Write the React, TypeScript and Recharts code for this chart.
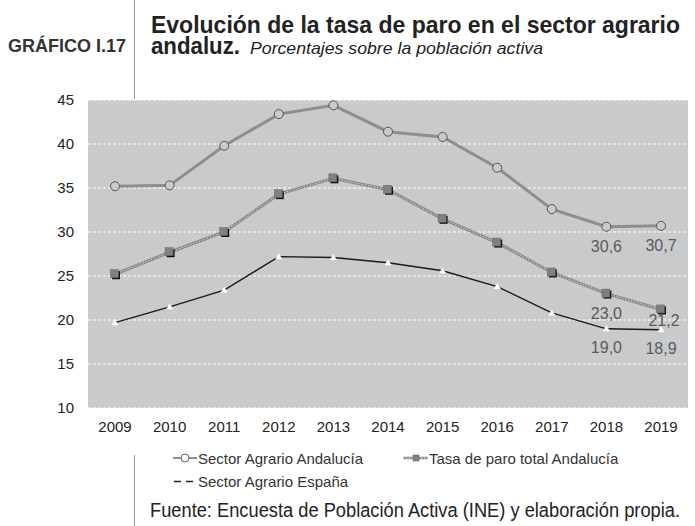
import { LineChart, Line, XAxis, YAxis, CartesianGrid, Legend, LabelList } from 'recharts'

const years = ['2009', '2010', '2011', '2012', '2013', '2014', '2015', '2016', '2017', '2018', '2019']
const agrarioAndalucia = [35.2, 35.3, 39.8, 43.4, 44.4, 41.4, 40.8, 37.3, 32.6, 30.6, 30.7]
const paroTotalAndalucia = [25.2, 27.7, 30.0, 34.3, 36.1, 34.8, 31.5, 28.8, 25.4, 23.0, 21.2]
const agrarioEspana = [19.7, 21.5, 23.4, 27.2, 27.1, 26.5, 25.6, 23.8, 20.8, 19.0, 18.9]
const yTicks = [10, 15, 20, 25, 30, 35, 40, 45]
const labelledYears = ['2018', '2019']

const seriesNames = {
  andalucia: 'Sector Agrario Andalucía',
  total: 'Tasa de paro total Andalucía',
  espana: 'Sector Agrario España',
}

const data = years.map((year, i) => ({
  year,
  andalucia: agrarioAndalucia[i],
  total: paroTotalAndalucia[i],
  espana: agrarioEspana[i],
}))

const BG = '#c9cacc'
const FONT = '"Liberation Sans", Arial, sans-serif'
const NARROW = '"Liberation Sans Narrow", "Liberation Sans", Arial, sans-serif'

const fmt = (v: number) => v.toFixed(1).replace('.', ',')

const CircleDot = (p: any) => (
  <circle key={p.key} cx={p.cx} cy={p.cy} r={4.5} fill={BG} stroke="#555" strokeWidth={1} />
)

const SquareDot = (p: any) => (
  <g key={p.key}>
    <rect x={p.cx - 3} y={p.cy - 3} width={8} height={8} fill="#111" />
    <rect x={p.cx - 4.5} y={p.cy - 4.5} width={8} height={8} fill="#808080" stroke="#666" strokeWidth={0.5} />
  </g>
)

const TriangleDot = (p: any) => (
  <path
    key={p.key}
    d={`M${p.cx},${p.cy - 3.5} L${p.cx + 3.5},${p.cy + 2.5} L${p.cx - 3.5},${p.cy + 2.5} Z`}
    fill="#fff"
  />
)

// etiquetas solo para los dos últimos años
const makeLabel = (offsets: Record<string, [number, number]>) => (p: any) => {
  const year = years[p.index]
  if (!labelledYears.includes(year)) return null
  const [dx, dy] = offsets[year]
  return (
    <text key={p.index} x={p.x + dx} y={p.y + dy} textAnchor="middle" fontSize={16} fontFamily={FONT} fill="#5a5a5a">
      {fmt(Number(p.value))}
    </text>
  )
}

const LegendBox = () => (
  <svg width={695} height={86} style={{ display: 'block' }}>
    <g fontFamily={FONT} fontSize={15} fill="#333">
      <line x1={173} x2={197} y1={18} y2={18} stroke="#8e8e8e" strokeWidth={2} />
      <circle cx={185} cy={18} r={4} fill="#fff" stroke="#666" strokeWidth={1} />
      <text x={198} y={23.5}>{seriesNames.andalucia}</text>

      <line x1={403} x2={428} y1={18} y2={18} stroke="#8e8e8e" strokeWidth={2.5} />
      <line x1={403} x2={428} y1={18} y2={18} stroke="#fff" strokeWidth={1} strokeDasharray="1 2" />
      <rect x={413} y={15} width={6} height={6} fill="#808080" stroke="#555" strokeWidth={0.5} />
      <text x={429} y={23.5}>{seriesNames.total}</text>

      <line x1={174} x2={196} y1={41.5} y2={41.5} stroke="#222" strokeWidth={1.5} strokeDasharray="7 5" />
      <text x={198} y={47}>{seriesNames.espana}</text>
    </g>
  </svg>
)

export default function App() {
  return (
    <div style={{ position: 'absolute', left: 0, top: 0, width: 695, height: 526, background: '#fff', overflow: 'hidden' }}>
      <svg width={695} height={526} style={{ position: 'absolute', left: 0, top: 0 }}>
        <line x1={134.5} x2={134.5} y1={0} y2={99} stroke="#999" strokeWidth={1} />
        <line x1={134.5} x2={134.5} y1={455} y2={526} stroke="#999" strokeWidth={1} />
        <text x={8} y={51.5} fontFamily={FONT} fontWeight="bold" fontSize={18.5} fill="#333" textLength={118} lengthAdjust="spacingAndGlyphs">
          GRÁFICO I.17
        </text>
        <text x={151} y={33} fontFamily={NARROW} fontWeight="bold" fontSize={24} fill="#222" textLength={529} lengthAdjust="spacingAndGlyphs">
          Evolución de la tasa de paro en el sector agrario
        </text>
        <text x={151} y={54} fontFamily={NARROW} fontWeight="bold" fontSize={24} fill="#222" textLength={89} lengthAdjust="spacingAndGlyphs">
          andaluz.
        </text>
        <text x={250} y={54} fontFamily={NARROW} fontStyle="italic" fontSize={17} fill="#222" textLength={293} lengthAdjust="spacingAndGlyphs">
          Porcentajes sobre la población activa
        </text>
        <text x={150} y={516.5} fontFamily={NARROW} fontSize={19.5} fill="#222" textLength={530} lengthAdjust="spacingAndGlyphs">
          Fuente: Encuesta de Población Activa (INE) y elaboración propia.
        </text>
      </svg>

      <div style={{ position: 'absolute', left: 0, top: 0 }}>
        <LineChart width={695} height={526} data={data} margin={{ top: 100, right: 7, left: 0, bottom: 86 }}>
          <CartesianGrid vertical={false} fill={BG} stroke="#fff" strokeDasharray="3 2" strokeWidth={1} />
          <XAxis
            dataKey="year"
            axisLine={false}
            tickLine={false}
            height={32}
            tickMargin={7}
            padding={{ left: 27, right: 27 }}
            tick={{ fontSize: 15, fill: '#222', fontFamily: FONT }}
          />
          <YAxis
            domain={[10, 45]}
            ticks={yTicks}
            axisLine={false}
            tickLine={false}
            width={88}
            tickMargin={8}
            tick={{ fontSize: 15, fill: '#222', fontFamily: FONT }}
          />
          <Legend
            layout="horizontal"
            verticalAlign="middle"
            align="center"
            wrapperStyle={{ position: 'absolute', left: 0, top: 440, width: 695, height: 86 }}
            content={() => <LegendBox />}
          />
          <Line
            dataKey="andalucia"
            name={seriesNames.andalucia}
            stroke="#8e8e8e"
            strokeWidth={3}
            dot={CircleDot}
            isAnimationActive={false}
          >
            <LabelList dataKey="andalucia" content={makeLabel({ '2018': [0, 25], '2019': [0, 25] })} />
          </Line>
          <Line
            dataKey="total"
            name={seriesNames.total}
            stroke="#8a8a8a"
            strokeWidth={3}
            dot={false}
            legendType="none"
            isAnimationActive={false}
          />
          <Line
            dataKey="total"
            name={seriesNames.total}
            stroke="#f2f2f2"
            strokeWidth={1}
            strokeDasharray="1 2"
            dot={SquareDot}
            isAnimationActive={false}
          >
            <LabelList dataKey="total" content={makeLabel({ '2018': [0, 25], '2019': [3, 17] })} />
          </Line>
          <Line
            dataKey="espana"
            name={seriesNames.espana}
            stroke="#1a1a1a"
            strokeWidth={1.4}
            dot={TriangleDot}
            isAnimationActive={false}
          >
            <LabelList dataKey="espana" content={makeLabel({ '2018': [0, 24], '2019': [0, 24] })} />
          </Line>
        </LineChart>
      </div>
    </div>
  )
}
